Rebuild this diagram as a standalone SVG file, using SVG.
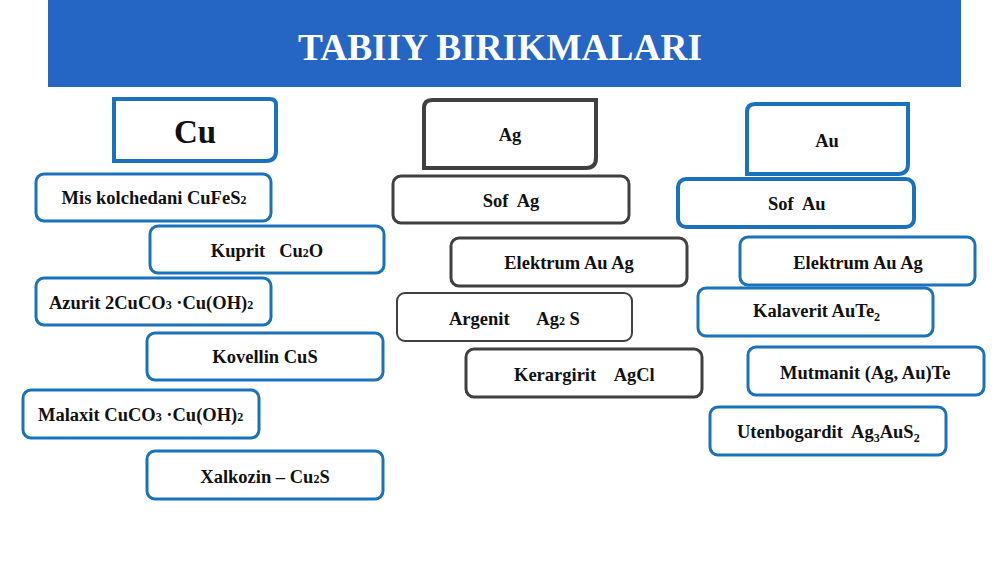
<svg xmlns="http://www.w3.org/2000/svg" width="1000" height="562" viewBox="0 0 1000 562" font-family="Liberation Serif, Times New Roman, serif">
<style>
.t{font-family:'Liberation Serif',serif;font-weight:bold;font-size:18.5px;fill:#111}
.b{fill:#fff;stroke:#1a72bd;stroke-width:3}
.g{fill:#fff;stroke:#404040;stroke-width:3}
.hb{fill:#fff;stroke:#1a72bd;stroke-width:4}
.hg{fill:#fff;stroke:#404040;stroke-width:4}
.s{font-size:12px}
</style>
<rect width="1000" height="562" fill="#fff"/>
<g id="title">
<rect x="48" y="0" width="913" height="87" fill="#2566c4"/>
<text x="500" y="60" text-anchor="middle" font-family="Liberation Serif, Times New Roman, serif" font-weight="bold" font-size="38" fill="#fff" textLength="404" lengthAdjust="spacingAndGlyphs">TABIIY BIRIKMALARI</text>
</g>
<g id="connectors"/>
<g id="cu">
<path class="hb" d="M114,99 H270 Q276,99 276,105 V151 Q276,161 266,161 H114 Z"/>
<text x="195" y="143" text-anchor="middle" class="t" style="font-size:33px">Cu</text>
</g>
<g id="cu1"><rect class="b" x="36" y="174" width="235" height="47" rx="8"/>
<text x="154" y="204" text-anchor="middle" class="t">Mis kolchedani CuFeS<tspan class="s">2</tspan></text></g>
<g id="cu2"><rect class="b" x="150" y="226" width="234" height="47" rx="8"/>
<text x="267" y="257" text-anchor="middle" class="t" xml:space="preserve">Kuprit   Cu<tspan class="s">2</tspan>O</text></g>
<g id="cu3"><rect class="b" x="36" y="278" width="235" height="47" rx="8"/>
<text x="49" y="309" class="t">Azurit 2CuCO<tspan class="s">3</tspan> ·Cu(OH)<tspan class="s">2</tspan></text></g>
<g id="cu4"><rect class="b" x="147" y="333" width="236" height="47" rx="8"/>
<text x="265" y="363" text-anchor="middle" class="t">Kovellin CuS</text></g>
<g id="cu5"><rect class="b" x="23" y="390" width="236" height="48" rx="8"/>
<text x="38" y="421" class="t">Malaxit CuCO<tspan class="s">3</tspan> ·Cu(OH)<tspan class="s">2</tspan></text></g>
<g id="cu6"><rect class="b" x="147" y="451" width="236" height="48" rx="8"/>
<text x="265" y="483" text-anchor="middle" class="t">Xalkozin – Cu<tspan class="s">2</tspan>S</text></g>

<g id="ag">
<path class="hg" d="M432,100 H596 V158 Q596,168 586,168 H424 V108 Q424,100 432,100 Z"/>
<text x="510" y="141" text-anchor="middle" class="t">Ag</text>
</g>
<g id="ag1"><rect class="g" x="393" y="176" width="236" height="47" rx="8"/>
<text x="511" y="207" text-anchor="middle" class="t" xml:space="preserve">Sof  Ag</text></g>
<g id="ag2"><rect class="g" x="451" y="238" width="236" height="48" rx="8"/>
<text x="569" y="269" text-anchor="middle" class="t">Elektrum Au Ag</text></g>
<g id="ag3"><rect class="g" x="397" y="293" width="235" height="48" rx="8" style="stroke-width:2"/>
<text x="449" y="325" class="t" xml:space="preserve">Argenit      Ag<tspan class="s">2</tspan> S</text></g>
<g id="ag4"><rect class="g" x="466" y="349" width="236" height="48" rx="8"/>
<text x="514" y="381" class="t" xml:space="preserve">Kerargirit    AgCl</text></g>

<g id="au">
<path class="hb" d="M755,104 H908 V164 Q908,174 898,174 H747 V112 Q747,104 755,104 Z"/>
<text x="827" y="147" text-anchor="middle" class="t">Au</text>
</g>
<g id="au1"><rect class="hb" x="678" y="179" width="236" height="48" rx="8"/>
<text x="768" y="210" class="t" xml:space="preserve">Sof  Au</text></g>
<g id="au2"><rect class="b" x="740" y="237" width="235" height="48" rx="8"/>
<text x="858" y="269" text-anchor="middle" class="t">Elektrum Au Ag</text></g>
<g id="au3"><rect class="b" x="698" y="288" width="235" height="48" rx="8"/>
<text x="753" y="317" class="t">Kalaverit AuTe<tspan class="s" dy="4">2</tspan></text></g>
<g id="au4"><rect class="b" x="748" y="347" width="236" height="48" rx="8"/>
<text x="780" y="379" class="t">Mutmanit (Ag, Au)Te</text></g>
<g id="au5"><rect class="b" x="710" y="407" width="236" height="48" rx="8"/>
<text x="737" y="438" class="t" xml:space="preserve">Utenbogardit  Ag<tspan class="s" dy="4">3</tspan><tspan dy="-4">AuS</tspan><tspan class="s" dy="4">2</tspan></text></g>
</svg>
